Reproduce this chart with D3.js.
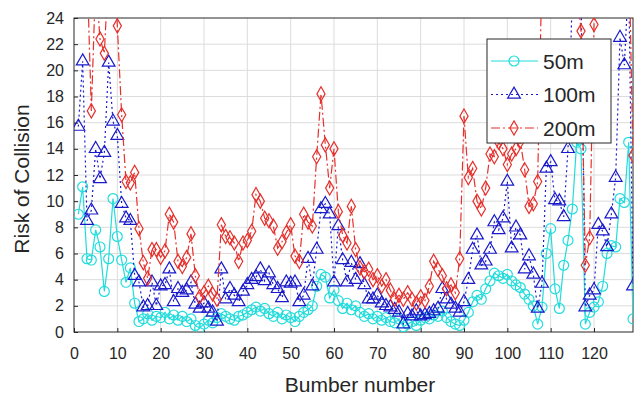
<!DOCTYPE html>
<html>
<head>
<meta charset="utf-8">
<script src="https://cdn.jsdelivr.net/npm/d3@7"></script>
<style>
  body { margin: 0; background: #fff; }
  text { font-family: "Liberation Sans", Arial, sans-serif; fill: #262626; }
</style>
</head>
<body>
<div id="chart"></div>
<script>
(function() {
  // bumper numbers 1..129
  const bumpers = d3.range(1, 130);

  const risk50 = [
    9.0, 11.1, 5.6, 5.5, 7.8, 6.5, 3.1, 5.6, 10.2, 7.3,
    5.5, 3.8, 4.9, 2.2, 0.8, 1.0, 1.4, 0.9, 1.2, 1.1,
    1.5, 1.0, 1.3, 0.9, 1.2, 0.8, 1.0, 0.5, 0.3, 0.6,
    0.9, 0.7, 1.1, 1.4, 1.2, 1.0, 0.9, 1.2, 1.3, 1.5,
    1.7, 1.9, 1.6, 1.8, 1.4, 1.2, 1.5, 1.0, 1.3, 1.1,
    0.8, 1.2, 1.5, 1.7, 2.0, 3.5, 4.4, 4.2, 2.6, 3.2,
    2.4, 1.8, 2.2, 1.7, 2.0, 1.5, 1.2, 1.4, 1.0, 1.2,
    0.9, 1.1, 0.8, 0.7, 1.0, 0.4, 0.6, 0.8, 0.5, 0.9,
    1.1, 1.0, 1.3, 1.2, 1.6, 1.1, 0.8, 0.6, 0.5, 0.9,
    1.5, 2.3, 2.8, 2.5, 3.3, 3.9, 4.5, 4.3, 4.1, 4.4,
    3.9, 3.6, 3.4, 2.9, 2.5, 2.0, 0.6, 1.9, 6.0, 7.9,
    3.3, 1.8, 5.1, 7.0, 9.4, 14.5, 14.0, 0.6, 1.5, 1.9,
    2.3, 3.5, 6.0, 6.6, 6.5, 10.2, 9.9, 14.5, 1.0
  ];

  const risk100 = [
    15.7, 20.7, 8.5, 9.3, 14.0, 11.7, 13.7, 20.6, 16.1, 15.0,
    9.8, 8.7, 8.5, 4.3, 3.8, 1.9, 2.0, 3.8, 2.0, 3.5,
    3.6, 4.8, 2.3, 3.3, 3.0, 3.2, 3.8, 2.1, 1.8, 2.2,
    1.8, 1.5, 0.8, 4.8, 2.5, 3.3, 2.8, 2.3, 3.1, 3.6,
    4.0, 4.2, 4.8, 3.9, 4.5, 3.6, 3.3, 2.6, 3.8, 3.7,
    3.8, 2.3, 2.8, 5.6, 3.5, 6.3, 9.4, 9.8, 9.0, 3.8,
    8.1, 5.5, 3.8, 5.3, 4.0, 5.2, 3.6, 2.5, 2.5, 2.8,
    2.2, 2.0, 1.9, 1.7, 1.5, 0.6, 1.4, 1.2, 1.6, 1.2,
    1.3, 1.4, 1.6, 1.8, 3.3, 2.5, 2.1, 1.8, 1.5, 2.3,
    4.0, 6.3, 7.4, 5.1, 5.4, 6.3, 8.4, 7.8, 8.7, 11.5,
    6.4, 8.0, 7.4, 4.8, 5.8, 4.4, 1.8, 3.7, 12.5, 13.0,
    10.1, 10.0, 8.8, 14.0, 26.0, 28.0, 26.0, 1.9, 2.8, 3.2,
    8.2, 7.7, 6.5, 9.0, 11.8, 22.5, 20.4, 27.0, 3.5
  ];

  const risk200 = [
    27.0, 30.0, 28.0, 16.9, 27.0, 22.4, 21.3, 28.0, 30.0, 23.4,
    16.6, 11.5, 11.4, 12.2, 7.9, 5.3, 4.1, 6.3, 6.3, 5.7,
    6.2, 9.0, 8.4, 5.4, 5.0, 5.7, 7.5, 4.3, 2.7, 3.0,
    3.5, 2.9, 2.5, 8.2, 7.3, 7.2, 6.8, 5.4, 6.8, 7.0,
    7.7, 10.5, 10.0, 8.7, 8.5, 8.1, 6.4, 6.9, 7.6, 8.2,
    5.8, 5.4, 9.0, 8.4, 8.1, 13.4, 18.2, 14.3, 11.0, 14.0,
    9.2, 7.4, 6.8, 9.6, 6.3, 4.9, 4.6, 4.8, 4.0, 4.3,
    3.5, 4.0, 3.2, 2.5, 2.8, 2.5, 3.0, 2.5, 2.2, 2.7,
    2.4, 3.5, 5.4, 4.8, 4.3, 3.3, 3.6, 3.0, 5.6, 16.5,
    11.8, 12.5, 10.0, 9.4, 11.0, 13.6, 13.4, 14.5, 14.0, 12.8,
    13.6, 14.0, 14.6, 12.4, 9.6, 9.8, 11.5, 28.0, 30.0, 32.0,
    29.0, 31.0, 28.0, 33.0, 30.0, 27.0, 23.0, 5.1, 7.2, 23.5,
    29.0, 31.0, 28.0, 30.0, 32.0, 29.0, 31.0, 30.0, 13.5
  ];

  const seriesNames = ['50m', '100m', '200m'];
  const xTicks = d3.range(0, 121, 10);
  const yTicks = d3.range(0, 25, 2);

  const series = [
    { name: seriesNames[0], values: risk50, color: '#22dcdc', dash: null, marker: 'circle' },
    { name: seriesNames[1], values: risk100, color: '#1a1acc', dash: '2,3', marker: 'triangle' },
    { name: seriesNames[2], values: risk200, color: '#e6302c', dash: '9,3,2,3', marker: 'diamond' }
  ];

  const width = 642, height = 400;
  const plot = { left: 74, right: 633, top: 18, bottom: 332 };

  const svg = d3.select('#chart')
    .append('svg')
      .attr('width', width)
      .attr('height', height);

  const x = d3.scaleLinear().domain([0, 129]).range([plot.left, plot.right]);
  const y = d3.scaleLinear().domain([0, 24]).range([plot.bottom, plot.top]);

  svg.append('clipPath')
    .attr('id', 'clip')
    .append('rect')
      .attr('x', plot.left)
      .attr('y', plot.top)
      .attr('width', plot.right - plot.left)
      .attr('height', plot.bottom - plot.top);

  // grid
  svg.append('g')
    .selectAll('line')
    .data(xTicks.slice(1))
    .enter().append('line')
      .attr('x1', d => x(d)).attr('x2', d => x(d))
      .attr('y1', plot.top).attr('y2', plot.bottom)
      .attr('stroke', '#dcdcdc').attr('stroke-width', 1);

  svg.append('g')
    .selectAll('line')
    .data(yTicks.slice(1, -1))
    .enter().append('line')
      .attr('x1', plot.left).attr('x2', plot.right)
      .attr('y1', d => y(d)).attr('y2', d => y(d))
      .attr('stroke', '#dcdcdc').attr('stroke-width', 1);

  // axes
  const xAxis = d3.axisBottom(x).tickValues(xTicks).tickSizeInner(-4).tickSizeOuter(0).tickPadding(16);
  const yAxis = d3.axisLeft(y).tickValues(yTicks).tickSizeInner(-4).tickSizeOuter(0).tickPadding(10);

  const gx = svg.append('g')
    .attr('transform', `translate(0, ${plot.bottom})`)
    .call(xAxis);
  const gy = svg.append('g')
    .attr('transform', `translate(${plot.left}, 0)`)
    .call(yAxis);

  [gx, gy].forEach(g => {
    g.select('.domain').remove();
    g.selectAll('.tick line').attr('stroke', '#262626');
    g.selectAll('.tick text')
      .style('font-family', '"Liberation Sans", Arial, sans-serif')
      .style('font-size', '16px')
      .attr('fill', '#333');
  });

  // plot box
  svg.append('rect')
    .attr('x', plot.left).attr('y', plot.top)
    .attr('width', plot.right - plot.left)
    .attr('height', plot.bottom - plot.top)
    .attr('fill', 'none')
    .attr('stroke', '#262626')
    .attr('stroke-width', 1);

  // axis titles
  svg.append('text')
    .attr('x', 360).attr('y', 392)
    .attr('text-anchor', 'middle')
    .style('font-size', '21px')
    .text('Bumber number');

  svg.append('text')
    .attr('transform', `translate(29, ${(plot.top + plot.bottom) / 2 + 4}) rotate(-90)`)
    .attr('text-anchor', 'middle')
    .style('font-size', '21px')
    .text('Risk of Collision');

  const line = d3.line()
    .x((d, i) => x(bumpers[i]))
    .y(d => y(d));

  const symbols = {
    circle: d3.symbol().type(d3.symbolCircle).size(78),
    triangle: d3.symbol().type(d3.symbolTriangle).size(70),
    diamond: d3.symbol().type(d3.symbolDiamond).size(58)
  };

  const plotArea = svg.append('g').attr('clip-path', 'url(#clip)');

  series.forEach(s => {
    const g = plotArea.append('g');
    g.append('path')
      .datum(s.values)
      .attr('d', line)
      .attr('fill', 'none')
      .attr('stroke', s.color)
      .attr('stroke-width', 1.2)
      .attr('stroke-dasharray', s.dash);

    g.selectAll('.mk')
      .data(s.values)
      .enter().append('path')
        .attr('class', 'mk')
        .attr('transform', (d, i) => `translate(${x(bumpers[i])}, ${y(d)})`)
        .attr('d', symbols[s.marker])
        .attr('fill', 'none')
        .attr('stroke', s.color)
        .attr('stroke-width', 1.2);
  });

  // legend
  const legend = svg.append('g');
  legend.append('rect')
    .attr('x', 487).attr('y', 39)
    .attr('width', 124).attr('height', 104)
    .attr('fill', '#fff')
    .attr('stroke', '#262626')
    .attr('stroke-width', 1);

  series.forEach((s, i) => {
    const ly = 61 + i * 33.5;
    legend.append('line')
      .attr('x1', 491).attr('x2', 538)
      .attr('y1', ly).attr('y2', ly)
      .attr('stroke', s.color)
      .attr('stroke-width', 1.2)
      .attr('stroke-dasharray', s.dash);
    legend.append('path')
      .attr('transform', `translate(514, ${ly})`)
      .attr('d', symbols[s.marker])
      .attr('fill', 'none')
      .attr('stroke', s.color)
      .attr('stroke-width', 1.2);
    legend.append('text')
      .attr('x', 543).attr('y', ly + 7.5)
      .style('font-size', '21px')
      .text(s.name);
  });
})();
</script>
</body>
</html>
